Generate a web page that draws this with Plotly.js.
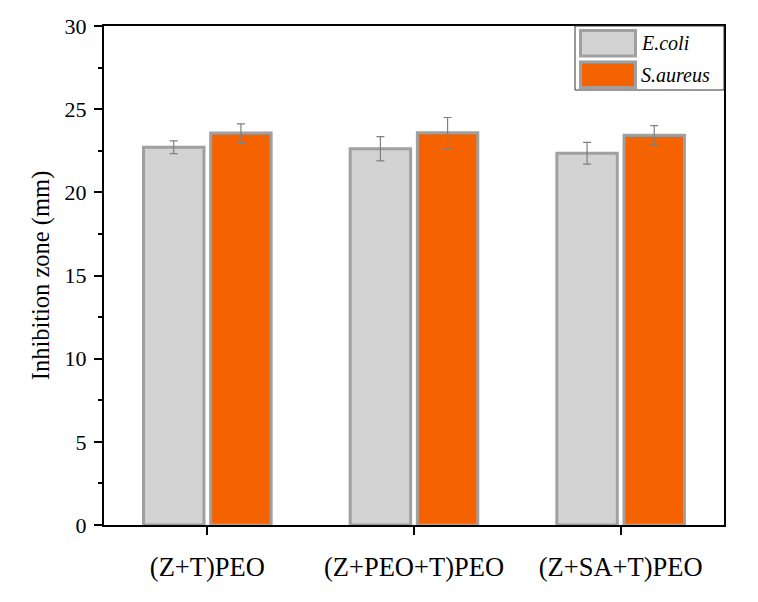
<!DOCTYPE html>
<html>
<head>
<meta charset="utf-8">
<script src="https://cdn.plot.ly/plotly-3.0.1.min.js"></script>
<style>html,body{margin:0;padding:0;background:#fff;}#chart{width:758px;height:602px;}</style>
</head>
<body>
<div id="chart"></div>
<script>
const categories = ["(Z+T)PEO", "(Z+PEO+T)PEO", "(Z+SA+T)PEO"];
const seriesNames = ["E.coli", "S.aureus"];
const ecoliValues = [22.71, 22.62, 22.35];
const ecoliErrors = [0.38, 0.73, 0.65];
const aureusValues = [23.56, 23.58, 23.43];
const aureusErrors = [0.56, 0.92, 0.58];
const yTickValues = [0, 5, 10, 15, 20, 25, 30];

const W = 758, H = 602;
const M = {l: 104, r: 34, t: 26, b: 77};
const PW = W - M.l - M.r, PH = H - M.t - M.b;
const px = x => (x - M.l) / PW;
const py = y => (H - M.b - y) / PH;

const FONT = "'Liberation Serif'";
const GRAY_FILL = "#d3d3d3", ORANGE_FILL = "#f56200", EDGE = "#a0a0a0";

const traces = [
  {
    type: "bar", name: seriesNames[0], x: categories, y: ecoliValues,
    marker: {color: GRAY_FILL, line: {color: EDGE, width: 3}},
    error_y: {type: "data", array: ecoliErrors, visible: true, color: "#808080", thickness: 1.2, width: 4},
    showlegend: false
  },
  {
    type: "bar", name: seriesNames[1], x: categories, y: aureusValues,
    marker: {color: ORANGE_FILL, line: {color: EDGE, width: 3}},
    error_y: {type: "data", array: aureusErrors, visible: true, color: "#808080", thickness: 1.2, width: 4},
    showlegend: false
  }
];

// custom legend (box, swatches, labels)
const shapes = [
  {type: "rect", xref: "paper", yref: "paper", x0: px(575), x1: px(724), y0: py(90), y1: py(26),
   line: {color: "#333", width: 1}, fillcolor: "#fff", layer: "above"},
  {type: "rect", xref: "paper", yref: "paper", x0: px(580.5), x1: px(635.5), y0: py(56), y1: py(30.5),
   line: {color: EDGE, width: 3}, fillcolor: GRAY_FILL, layer: "above"},
  {type: "rect", xref: "paper", yref: "paper", x0: px(580.5), x1: px(635.5), y0: py(87.5), y1: py(62),
   line: {color: EDGE, width: 3}, fillcolor: ORANGE_FILL, layer: "above"}
];
const annotations = [
  {xref: "paper", yref: "paper", x: px(639), y: py(43), xanchor: "left", yanchor: "middle",
   text: "<i>" + seriesNames[0] + "</i>", showarrow: false, font: {family: FONT, size: 20, color: "#000"}},
  {xref: "paper", yref: "paper", x: px(639), y: py(75), xanchor: "left", yanchor: "middle",
   text: "<i>" + seriesNames[1] + "</i>", showarrow: false, font: {family: FONT, size: 20, color: "#000"}}
];

const layout = {
  width: W, height: H,
  margin: M,
  paper_bgcolor: "#fff", plot_bgcolor: "#fff",
  font: {family: FONT, color: "#000"},
  barmode: "group",
  bargap: 0.35,
  bargroupgap: 0.1,
  showlegend: false,
  xaxis: {
    type: "category", range: [-0.5, 2.5],
    showline: true, linecolor: "#000", linewidth: 2, mirror: true,
    ticks: "outside", ticklen: 8, tickwidth: 2, tickcolor: "#000",
    tickfont: {family: FONT, size: 26.5, color: "#000"},
    ticklabelstandoff: 9,
    showgrid: false, zeroline: false
  },
  yaxis: {
    range: [0, 30], tickvals: yTickValues,
    showline: true, linecolor: "#000", linewidth: 2, mirror: true,
    ticks: "outside", ticklen: 8, tickwidth: 2, tickcolor: "#000",
    minor: {dtick: 2.5, ticks: "outside", ticklen: 4, tickwidth: 2, tickcolor: "#000", showgrid: false},
    tickfont: {family: FONT, size: 22, color: "#000"},
    ticklabelstandoff: 3,
    title: {text: "Inhibition zone (mm)", font: {family: FONT, size: 24.5, color: "#000"}, standoff: 8},
    showgrid: false, zeroline: false
  },
  shapes: shapes,
  annotations: annotations
};

Plotly.newPlot("chart", traces, layout, {displayModeBar: false, staticPlot: true});
</script>
</body>
</html>
